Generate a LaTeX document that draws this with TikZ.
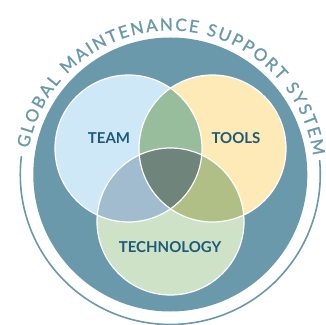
\documentclass[tikz,border=0pt]{standalone}
\usepackage{fontspec}
\setmainfont{Lato}
\newfontfamily\arcfont[FakeBold=1.2]{Lato}
\usetikzlibrary{decorations.text}
\definecolor{ringblue}{RGB}{106,153,172}
\definecolor{teamblue}{RGB}{207,232,248}
\definecolor{toolsyellow}{RGB}{254,234,182}
\definecolor{techgreen}{RGB}{205,226,198}
\definecolor{teamtools}{RGB}{151,189,156}
\definecolor{teamtech}{RGB}{161,188,206}
\definecolor{toolstech}{RGB}{176,191,133}
\definecolor{allthree}{RGB}{111,133,123}
\definecolor{labelteal}{RGB}{29,90,120}
\tikzset{vennlabel/.style={text=labelteal,font=\fontsize{15}{15}\selectfont\bfseries,inner sep=0pt},
  vennedge/.style={white,line width=1.2pt}}

\begin{document}
\begin{tikzpicture}[x=1pt,y=1pt]
  \useasboundingbox (0,0) rectangle (326,324);
  \coordinate (O) at (170.3,149.5);
  \coordinate (team) at (128.5,175.5);
  \coordinate (tools) at (212.5,175.5);
  \coordinate (tech) at (170.5,102.5);
  \fill[ringblue] (O) circle (137);
  \draw[ringblue,line width=1.6pt] (O) ++(173:150) arc[start angle=173,end angle=365.5,radius=150];
  \path[decorate,decoration={text along path,text align={fit to path},text color=ringblue,
      text={|\arcfont\fontsize{17}{17}\selectfont|GLOBAL MAINTENANCE SUPPORT SYSTEM}}]
    (O) ++(169.5:144) arc[start angle=169.5,end angle=7.5,radius=144];
  \fill[teamblue] (team) circle (73.5);
  \fill[toolsyellow] (tools) circle (73.5);
  \fill[techgreen] (tech) circle (73.5);
  \begin{scope}
    \clip (tools) circle (73.5);
    \fill[toolstech] (tech) circle (73.5);
  \end{scope}
  \begin{scope}
    \clip (team) circle (73.5);
    \fill[teamtools] (tools) circle (73.5);
    \fill[teamtech] (tech) circle (73.5);
    \clip (tools) circle (73.5);
    \fill[allthree] (tech) circle (73.5);
  \end{scope}
  \foreach \c in {team,tools,tech}
    \draw[vennedge] (\c) circle (73.5);
  \node[vennlabel] (teamtext) at (109,185.5) {TEAM};
  \node[vennlabel] (toolstext) at (236,185.5) {TOOLS};
  \node[vennlabel] (techtext) at (170,76.5) {TECHNOLOGY};
\end{tikzpicture}
\end{document}
